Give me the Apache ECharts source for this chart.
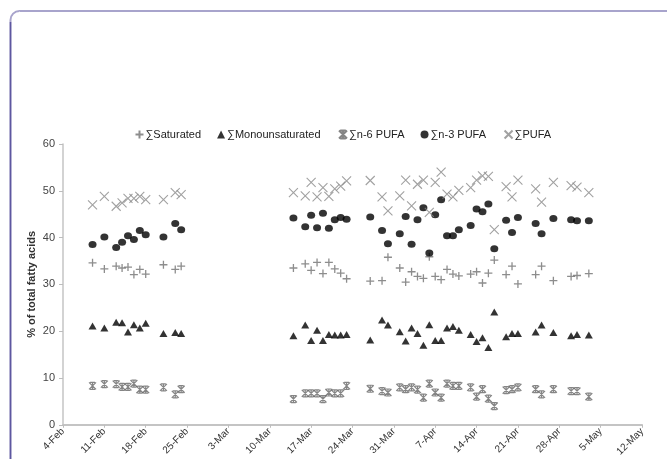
<!DOCTYPE html>
<html>
<head>
<meta charset="utf-8">
<script src="https://cdn.jsdelivr.net/npm/echarts@6/dist/echarts.min.js"></script>
<style>
html,body{margin:0;padding:0;background:#fff;}
#chart{width:667px;height:459px;}
</style>
</head>
<body>
<div id="chart"></div>
<script>
// Sampling dates (2008)
var dates = [
  '2008-02-09','2008-02-11','2008-02-13','2008-02-14','2008-02-15','2008-02-16','2008-02-17','2008-02-18','2008-02-21','2008-02-23','2008-02-24',
  '2008-03-14','2008-03-16','2008-03-17','2008-03-18','2008-03-19','2008-03-20','2008-03-21','2008-03-22','2008-03-23',
  '2008-03-27','2008-03-29','2008-03-30','2008-04-01','2008-04-02','2008-04-03','2008-04-04','2008-04-05','2008-04-06','2008-04-07','2008-04-08','2008-04-09',
  '2008-04-10','2008-04-11','2008-04-13','2008-04-14','2008-04-15','2008-04-16','2008-04-17','2008-04-19','2008-04-20','2008-04-21','2008-04-24','2008-04-25','2008-04-27','2008-04-30','2008-05-01','2008-05-03'
];
var saturated = [
  34.6,33.3,33.9,33.5,33.7,32.1,33.2,32.2,34.2,33.2,33.9,
  33.5,34.4,33.0,34.7,32.3,34.7,33.3,32.4,31.2,
  30.7,30.8,35.8,33.5,30.5,32.7,31.7,31.3,35.9,31.7,31.0,33.2,
  32.2,31.8,32.2,32.7,30.3,32.4,35.2,32.1,33.9,30.1,32.1,33.9,30.8,31.7,31.9,32.3
];
var monounsaturated = [
  21.1,20.7,21.9,21.8,19.8,21.4,20.7,21.7,19.5,19.7,19.5,
  19.0,21.3,18.0,20.2,18.0,19.3,19.2,19.2,19.3,
  18.1,22.4,21.3,19.9,17.9,20.7,19.5,17.0,21.4,18.0,18.0,20.7,
  21.0,20.2,19.3,17.8,18.6,16.5,24.1,18.8,19.5,19.5,19.8,21.3,19.7,19.0,19.3,19.2
];
var n6pufa = [
  8.3,8.7,8.7,8.1,8.1,8.8,7.5,7.5,8.0,6.5,7.6,
  5.5,6.7,6.7,6.7,5.5,6.9,6.7,6.7,8.3,
  7.7,7.2,6.9,8.0,7.6,8.0,7.5,5.8,8.8,6.9,5.8,8.8,
  8.3,8.3,8.0,6.0,7.6,5.6,4.0,7.4,7.6,8.0,7.6,6.5,7.6,7.2,7.2,6.0
];
var n3pufa = [
  38.5,40.1,37.9,39.0,40.4,39.6,41.5,40.6,40.1,43.0,41.7,
  44.2,42.3,44.8,42.1,45.2,42.0,43.8,44.3,43.9,
  44.4,41.5,38.7,40.8,44.5,38.6,43.8,46.4,36.7,44.9,48.1,40.4,
  40.4,41.7,42.6,46.1,45.5,47.2,37.6,43.7,41.1,44.3,43.0,40.8,44.1,43.8,43.6,43.6
];
var pufa = [
  47.0,48.8,46.7,47.4,48.4,48.4,48.8,48.1,48.1,49.6,49.2,
  49.6,48.9,51.8,48.7,50.7,48.8,50.4,51.0,52.1,
  52.2,48.7,45.7,48.9,52.3,46.8,51.4,52.3,45.4,51.8,54.0,49.3,
  48.7,50.1,50.7,52.3,53.2,53.1,41.7,50.9,48.7,52.3,50.4,47.6,51.8,51.1,50.8,49.6
];
var tickLabels = ['4-Feb','11-Feb','18-Feb','25-Feb','3-Mar','10-Mar','17-Mar','24-Mar','31-Mar','7-Apr','14-Apr','21-Apr','28-Apr','5-May','12-May'];
var seriesNames = ['\u2211Saturated','\u2211Monounsaturated','\u2211n-6 PUFA','\u2211n-3 PUFA','\u2211PUFA'];

var DAY = 86400000;
var origin = Date.UTC(2008, 1, 4);
function dayIndex(s) {
  var p = s.split('-');
  return Math.round((Date.UTC(+p[0], +p[1] - 1, +p[2]) - origin) / DAY);
}
function pairs(vals) {
  return vals.map(function (v, i) { return [dayIndex(dates[i]), v]; });
}

var plusSym = 'path://M5,0L5,10M0,5L10,5';
var crossSym = 'path://M0,0L10,10M10,0L0,10';
var starSym = 'path://M0,0L10,10M10,0L0,10M5,0L5,10M1.5,0L8.5,0M1.5,10L8.5,10';

var chart = echarts.init(document.getElementById('chart'));
chart.setOption({
  animation: false,
  backgroundColor: '#ffffff',
  graphic: [
    { type: 'rect', silent: true,
      shape: { x: 10.5, y: 11, width: 720, height: 520, r: 9 },
      style: { fill: 'none', stroke: '#a8a4cc', lineWidth: 2 } },
    { type: 'line', silent: true,
      shape: { x1: 10.5, y1: 22, x2: 10.5, y2: 459 },
      style: { stroke: '#5d57a0', lineWidth: 1.5 } }
  ],
  legend: {
    top: 123,
    left: 128,
    itemWidth: 8,
    itemHeight: 8,
    itemGap: 16,
    textStyle: { fontFamily: 'Liberation Sans, Arial, sans-serif', fontSize: 11, color: '#222', padding: [0, 0, 0, -3] },
    data: seriesNames
  },
  grid: { left: 63, right: 25, top: 144, bottom: 33, containLabel: false },
  xAxis: {
    type: 'value',
    min: 0,
    max: 98,
    interval: 7,
    axisLine: { show: true, lineStyle: { color: '#c4c4c4', width: 2 } },
    axisTick: { show: true, length: 3, lineStyle: { color: '#bdbdbd' } },
    splitLine: { show: false },
    axisLabel: {
      rotate: 45,
      fontFamily: 'Liberation Sans, Arial, sans-serif',
      fontSize: 10,
      color: '#333',
      margin: 5,
      formatter: function (v) { return tickLabels[Math.round(v / 7)] || ''; }
    }
  },
  yAxis: {
    type: 'value',
    min: 0,
    max: 60,
    interval: 10,
    name: '% of total fatty acids',
    nameLocation: 'middle',
    nameGap: 26,
    nameMoveOverlap: false,
    nameTextStyle: { fontFamily: 'Liberation Sans, Arial, sans-serif', fontSize: 11, fontWeight: 'bold', color: '#333' },
    axisLine: { show: true, lineStyle: { color: '#c4c4c4', width: 1.5 } },
    axisTick: { show: true, length: 4, lineStyle: { color: '#bdbdbd' } },
    splitLine: { show: false },
    axisLabel: { fontFamily: 'Liberation Sans, Arial, sans-serif', fontSize: 11, color: '#444', margin: 8 }
  },
  series: [
    { name: seriesNames[0], type: 'scatter', data: pairs(saturated), symbol: plusSym, symbolSize: 8,
      itemStyle: { color: 'none', borderColor: '#707070', borderWidth: 1.3 } },
    { name: seriesNames[1], type: 'scatter', data: pairs(monounsaturated), symbol: 'triangle', symbolSize: [8, 7],
      itemStyle: { color: '#000' } },
    { name: seriesNames[2], type: 'scatter', data: pairs(n6pufa), symbol: starSym, symbolSize: 7,
      itemStyle: { color: 'none', borderColor: '#666', borderWidth: 1.2 } },
    { name: seriesNames[3], type: 'scatter', data: pairs(n3pufa), symbol: 'circle', symbolSize: [8, 7],
      itemStyle: { color: '#000' } },
    { name: seriesNames[4], type: 'scatter', data: pairs(pufa), symbol: crossSym, symbolSize: 9,
      itemStyle: { color: 'none', borderColor: '#8a8a8a', borderWidth: 1.1 } }
  ]
});
</script>
</body>
</html>
